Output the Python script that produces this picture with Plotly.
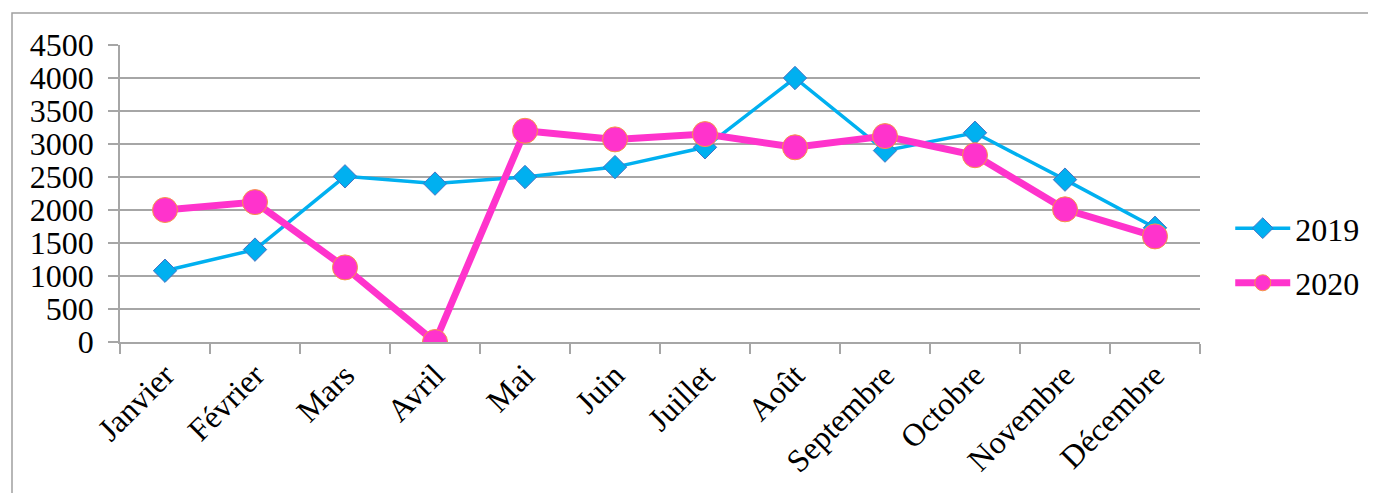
import plotly.graph_objects as go

months = ["Janvier", "Février", "Mars", "Avril", "Mai", "Juin", "Juillet",
          "Août", "Septembre", "Octobre", "Novembre", "Décembre"]
values_2019 = [1080, 1400, 2510, 2400, 2500, 2650, 2950, 4000, 2900, 3170, 2460, 1730]
values_2020 = [2000, 2120, 1130, 0, 3200, 3070, 3150, 2950, 3120, 2830, 2010, 1600]
y_ticks = [0, 500, 1000, 1500, 2000, 2500, 3000, 3500, 4000, 4500]

FONT = "'Liberation Serif', 'Times New Roman', serif"
GRID = "#A6A6A6"
FS = 32

fig = go.Figure()
fig.add_trace(go.Scatter(
    x=months, y=values_2019, name="2019", mode="lines+markers",
    legendgroup="a",
    line=dict(color="#00B0F0", width=3.5),
    marker=dict(symbol="diamond", size=18, color="#00B0F0",
                line=dict(color="#4472C4", width=1)),
))
fig.add_trace(go.Scatter(
    x=months, y=values_2020, name="2020", mode="lines+markers",
    legendgroup="b",
    line=dict(color="#FF33CC", width=7),
    marker=dict(symbol="circle", size=25, color="#FF33CC",
                line=dict(color="#F79646", width=1)),
))

fig.update_layout(
    width=1368, height=485,
    margin=dict(l=112, r=176, t=37, b=151),
    paper_bgcolor="white", plot_bgcolor="white",
    font=dict(family=FONT, size=FS, color="black"),
    showlegend=True,
    legend=dict(x=1.028, y=0.29, xanchor="left", yanchor="middle",
                font=dict(family=FONT, size=FS, color="black"),
                bgcolor="rgba(0,0,0,0)", tracegroupgap=10,
                traceorder="grouped", itemwidth=55),
    xaxis=dict(
        type="category", range=[-0.5, 11.5],
        showline=True, linecolor=GRID, linewidth=1.5,
        ticks="outside", tickson="boundaries", ticklen=10,
        tickcolor=GRID, tickwidth=1.5,
        tickangle=-45, showgrid=False,
        tickfont=dict(family=FONT, size=FS, color="black"),
    ),
    yaxis=dict(
        range=[0, 4500], tickvals=y_ticks,
        showline=True, linecolor=GRID, linewidth=1.5,
        ticks="outside", ticklen=10, tickcolor=GRID, tickwidth=1.5,
        ticklabelstandoff=8,
        showgrid=True, gridcolor=GRID, gridwidth=1.5,
        zeroline=False,
        tickfont=dict(family=FONT, size=FS, color="black"),
    ),
    shapes=[dict(type="rect", xref="paper", yref="paper",
                 x0=-0.1, x1=1.3, y0=-0.7, y1=1.1077,
                 line=dict(color="#A0A0A0", width=1.5),
                 fillcolor="rgba(0,0,0,0)", layer="below")],
)

fig.write_html("out.html")
